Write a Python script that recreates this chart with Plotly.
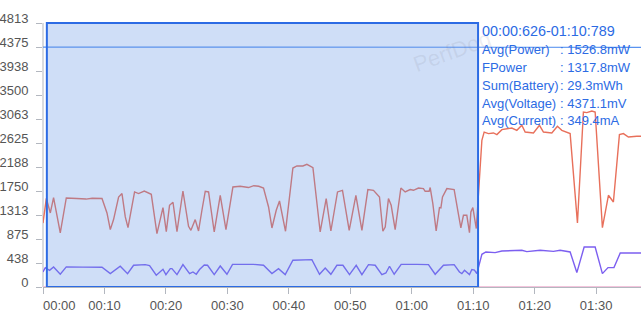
import plotly.graph_objects as go

# ---------------- data ----------------
power_t = [0.0, 0.54, 1.19, 1.72, 2.81, 3.79, 5.5, 7.0, 8.0, 9.6, 10.41, 10.95, 11.48, 12.3, 12.85,
           13.39, 13.83, 14.9, 15.55, 16.48, 17.62, 18.54, 19.52, 20.06, 20.59, 21.15, 21.8, 22.77,
           23.68, 24.07, 24.77, 25.31, 25.86, 26.4, 26.94, 27.86, 28.84, 29.77, 30.9, 32.09, 33.44,
           34.3, 35.1, 35.88, 36.7, 37.25, 37.95, 38.48, 39.46, 40.66, 41.31, 42.29, 42.94, 43.92,
           45.1, 46.08, 46.84, 47.92, 48.73, 49.82, 50.91, 51.89, 52.86, 53.77, 54.75, 55.3, 55.68,
           56.21, 56.65, 57.3, 58.23, 58.93, 59.74, 60.28, 61.09, 61.9, 62.18, 62.83, 63.0, 63.43,
           63.97, 64.51, 64.74, 65.0, 65.71, 66.9, 67.6, 67.99, 68.41, 68.96, 69.39, 69.62, 69.94,
           70.5, 71.41, 71.78, 72.48, 73.29, 73.85, 74.66, 76.28, 77.1, 77.91, 78.45, 79.8, 80.78,
           81.43, 82.79, 83.7, 84.42, 85.77, 86.96, 87.93, 88.49, 89.3, 89.84, 91.02, 92.0, 92.81,
           93.79, 94.44, 95.25, 96.62, 97.3]
power = [1165, 1617, 1350, 1630, 985, 1623, 1613, 1603, 1618, 1613, 1350, 1046, 1229, 1641, 1703,
         1277, 1083, 1733, 1703, 1750, 1690, 974, 1448, 1011, 1490, 1545, 1011, 1750,
         1106, 1034, 1229, 1021, 1399, 1745, 1733, 1003, 1672, 1046, 1824, 1836, 1813,
         1847, 1837, 1805, 1459, 1076, 1399, 1568, 1016, 2169, 2206, 2206, 2237, 2176,
         1003, 1612, 1021, 1733, 1763, 1034, 1672, 1034, 1776, 1763, 1641, 1016, 1094,
         1612, 1490, 1046, 1805, 1733, 1776, 1763, 1805, 1794, 1745, 1745, 1813, 1520,
         1021, 1448, 1441, 1641, 1794, 1776, 1325, 1076, 1307, 1307, 992, 1367, 1448,
         1065, 2675, 2825, 2797, 2808, 2779, 2869, 2899, 2857, 2948, 2825, 2808, 2948,
         2825, 2808, 2929, 2857, 2797, 1166, 3190, 3179, 3209, 3190, 1083, 1672, 1550,
         2779, 2797, 2735, 2747, 2747]

current_t = [0.0, 0.37, 1.07, 1.72, 2.81, 3.79, 6.5, 9.6, 10.95, 12.57, 13.76, 14.74, 16.64, 17.34,
             18.43, 19.52, 20.0, 20.71, 20.98, 21.8, 22.77, 23.85, 24.4, 24.94, 25.47, 26.24, 26.77,
             27.86, 28.84, 29.93, 30.84, 34.25, 35.88, 37.25, 38.32, 39.41, 40.66, 43.75, 44.99,
             45.92, 46.84, 47.82, 48.8, 49.87, 50.96, 51.89, 52.96, 54.05, 55.14, 55.79, 56.38,
             57.14, 58.28, 59.21, 60.83, 62.72, 63.81, 65.16, 66.9, 67.76, 68.15, 68.58, 68.96,
             69.39, 69.78, 70.2, 70.59, 71.41, 72.06, 73.57, 74.66, 77.91, 78.72, 80.89, 83.05,
             84.14, 85.77, 86.86, 88.05, 89.84, 91.02, 91.93, 92.9, 93.92, 97.3]
current = [274, 353, 304, 366, 232, 366, 362, 359, 244, 378, 244, 396, 408, 390,
           214, 323, 226, 335, 335, 226, 408, 244, 274, 232, 318, 401, 396,
           226, 383, 232, 413, 413, 396, 244, 335, 226, 487, 499, 232,
           347, 232, 396, 396, 226, 396, 226, 408, 396, 226, 256, 378,
           232, 413, 408, 413, 408, 232, 396, 408, 274, 244, 304, 263,
           226, 318, 309, 244, 596, 639, 627, 657, 669, 645, 669, 650,
           669, 639, 263, 729, 729, 244, 353, 353, 620, 620]

voltage_t = [0.0, 50.0, 97.3]
voltage = [4373, 4371, 4370]

battery_t = [0.0, 97.3]
battery = [0, 0]

sel_start, sel_end = 0.626, 70.789
x_ticks = [0, 10, 20, 30, 40, 50, 60, 70, 80, 90]
x_labels = ["", "00:10", "00:20", "00:30", "00:40", "00:50", "01:00", "01:10", "01:20", "01:30"]
y_ticks = [0, 437.5, 875, 1312.5, 1750, 2187.5, 2625, 3062.5, 3500, 3937.5, 4375, 4812.5]
y_labels = ["0", "438", "875", "1313", "1750", "2188", "2625", "3063", "3500", "3938", "4375", "4813"]
y_max = 4813

info_title = "00:00:626-01:10:789"
info_labels = ["Avg(Power)", "FPower", "Sum(Battery)", "Avg(Voltage)", "Avg(Current)"]
info_values = [": 1526.8mW", ": 1317.8mW", ": 29.3mWh", ": 4371.1mV", ": 349.4mA"]

# ---------------- layout geometry ----------------
W, H = 641, 315
LIFT = 5                      # y tick labels sit ~5px above their ticks
ML, MR, MB = 43, 0, 28
GRID_TOP = 23                 # pixel row of the y_max tick / selection top
MT = GRID_TOP - LIFT
PW, PH = W - ML - MR, H - MT - MB
DATA_PH = PH - LIFT           # pixels spanned by 0..y_max
y_top = y_max * PH / DATA_PH  # axis range top so that y_max lands on GRID_TOP
shift = LIFT * y_max / DATA_PH


def px_x(px):
    return (px - ML) / PW


def px_y(py):
    return (H - MB - py) / PH


FONT = "Liberation Sans, Arial, Helvetica, sans-serif"
AXIS_COL = "#b3b7bf"
LABEL_COL = "#555555"
BLUE = "#2c6be4"

fig = go.Figure()
fig.add_trace(go.Scatter(x=battery_t, y=battery, mode="lines",
                         line=dict(color="#f3c4dc", width=2), hoverinfo="skip"))
fig.add_trace(go.Scatter(x=voltage_t, y=voltage, mode="lines",
                         line=dict(color="#5a93f0", width=1.2), hoverinfo="skip"))
fig.add_trace(go.Scatter(x=power_t, y=power, mode="lines",
                         line=dict(color="#e8705b", width=1.4), hoverinfo="skip"))
fig.add_trace(go.Scatter(x=current_t, y=current, mode="lines",
                         line=dict(color="#7c5ff0", width=1.4), hoverinfo="skip"))
# carrier for the label-only overlay axis
fig.add_trace(go.Scatter(x=[0], y=[0], yaxis="y2", mode="markers",
                         marker=dict(opacity=0), hoverinfo="skip"))

# y axis line (only from 0 up to y_max)
fig.add_shape(type="line", xref="paper", yref="y", x0=0, x1=0, y0=0, y1=y_max,
              line=dict(color=AXIS_COL, width=1), layer="below")
fig.add_shape(type="rect", xref="x", yref="y", x0=sel_start, x1=sel_end, y0=0, y1=y_max,
              fillcolor="rgba(95,145,230,0.30)", line=dict(color=BLUE, width=2), layer="above")

annos = []
annos.append(dict(text="PerfDog", xref="paper", yref="paper", x=px_x(452), y=px_y(52),
                  xanchor="center", yanchor="middle",
                  showarrow=False, textangle=-20,
                  font=dict(family=FONT, size=22, color="rgba(120,120,140,0.13)")))
annos.append(dict(text="00:00", xref="paper", yref="paper", x=px_x(42), y=px_y(305),
                  xanchor="left", yanchor="middle", showarrow=False, borderpad=0,
                  font=dict(family=FONT, size=13, color=LABEL_COL)))
annos.append(dict(text=info_title, xref="paper", yref="paper", x=px_x(480), y=px_y(31),
                  xanchor="left", yanchor="middle", showarrow=False,
                  font=dict(family=FONT, size=14.4, color=BLUE)))
line_y = [49, 67, 85.5, 103, 120]
for lab, val, yy in zip(info_labels, info_values, line_y):
    annos.append(dict(text=lab, xref="paper", yref="paper", x=px_x(480), y=px_y(yy),
                      xanchor="left", yanchor="middle", showarrow=False,
                      font=dict(family=FONT, size=13, color=BLUE)))
    annos.append(dict(text=val, xref="paper", yref="paper", x=px_x(557.5), y=px_y(yy),
                      xanchor="left", yanchor="middle", showarrow=False,
                      font=dict(family=FONT, size=13, color=BLUE)))

fig.update_layout(
    width=W, height=H,
    margin=dict(l=ML, r=MR, t=MT, b=MB, pad=0),
    paper_bgcolor="white", plot_bgcolor="white",
    showlegend=False,
    annotations=annos,
    xaxis=dict(range=[0, 97.3], tickmode="array", tickvals=x_ticks, ticktext=x_labels,
               showgrid=False, zeroline=False, showline=True, linecolor=AXIS_COL, linewidth=1,
               ticks="outside", ticklen=6, tickcolor=AXIS_COL, ticklabelstandoff=0,
               tickfont=dict(family=FONT, size=13, color=LABEL_COL)),
    yaxis=dict(range=[0, y_top], tickmode="array", tickvals=y_ticks, showticklabels=False,
               showgrid=False, zeroline=False, showline=False,
               ticks="outside", ticklen=6, tickcolor=AXIS_COL),
    yaxis2=dict(overlaying="y", side="left", range=[-shift, y_top - shift],
                tickmode="array", tickvals=y_ticks, ticktext=y_labels,
                showgrid=False, zeroline=False, showline=False,
                ticks="outside", ticklen=6, tickcolor="rgba(0,0,0,0)", ticklabelstandoff=5,
                tickfont=dict(family=FONT, size=13, color=LABEL_COL)),
)

fig.write_html("out.html")
